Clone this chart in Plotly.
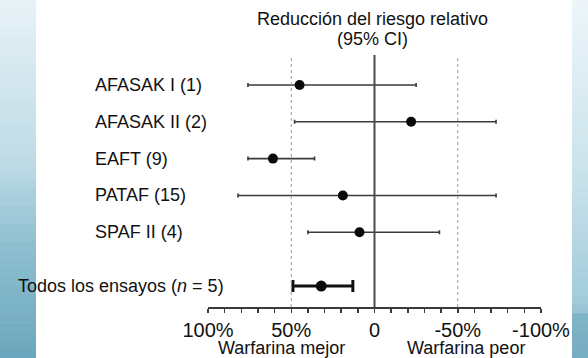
import plotly.graph_objects as go

# ---- data (relative risk reduction, %) ----
studies = ["AFASAK I (1)", "AFASAK II (2)", "EAFT (9)", "PATAF (15)", "SPAF II (4)"]
study_point = [45, -22, 61, 19, 9]
study_ci_low = [-25, -73, 36, -73, -39]
study_ci_high = [76, 48, 76, 82, 40]

overall_label = "Todos los ensayos (<i>n</i> = 5)"
overall_point = [32]
overall_ci_low = [13]
overall_ci_high = [49]

tick_values = [100, 50, 0, -50, -100]
tick_labels = ["100%", "50%", "0", "-50%", "-100%"]
ref_lines = [50, 0, -50]

# ---- layout geometry (pixels) ----
W, H = 588, 358
L, R, T, B = 208, 47, 55, 51
PW, PH = W - L - R, H - T - B


def px_x(p):
    return (p - L) / PW


def px_y(p):
    return (T + PH - p) / PH


row_pos = list(range(len(studies)))
overall_pos = [len(studies) - 1 + 1.46]

FONT = "Liberation Sans, Arial, sans-serif"

fig = go.Figure()

# study CIs and points
fig.add_trace(go.Scatter(
    x=study_point, y=row_pos, mode="markers",
    marker=dict(color="#0a0a0a", size=10),
    error_x=dict(type="data", symmetric=False,
                 array=[h - p for h, p in zip(study_ci_high, study_point)],
                 arrayminus=[p - l for p, l in zip(study_point, study_ci_low)],
                 color="#3a3a3a", thickness=1.6, width=2),
    showlegend=False, hoverinfo="skip"))

fig.add_trace(go.Scatter(
    x=overall_point, y=overall_pos, mode="markers",
    marker=dict(color="#0a0a0a", size=11),
    error_x=dict(type="data", symmetric=False,
                 array=[h - p for h, p in zip(overall_ci_high, overall_point)],
                 arrayminus=[p - l for p, l in zip(overall_point, overall_ci_low)],
                 color="#111111", thickness=3, width=6),
    showlegend=False, hoverinfo="skip"))

shapes = []


def lerp(c1, c2, t):
    return "rgb(%d,%d,%d)" % tuple(round(a + (b - a) * t) for a, b in zip(c1, c2))


def gradient_strip(x0p, x1p, stops, n=40):
    out = []
    for i in range(n):
        y0 = H * i / n
        y1 = H * (i + 1) / n + 0.6
        t = (i + 0.5) / n
        for k in range(len(stops) - 1):
            t0, c0 = stops[k]
            t1, c1 = stops[k + 1]
            if t0 <= t <= t1:
                col = lerp(c0, c1, (t - t0) / (t1 - t0))
                break
        out.append(dict(type="rect", xref="paper", yref="paper",
                        x0=px_x(x0p), x1=px_x(x1p), y0=px_y(y1), y1=px_y(y0),
                        fillcolor=col, line=dict(width=0), layer="below"))
    return out


left_stops = [(0.0, (232, 242, 246)), (0.45, (190, 219, 230)),
              (0.7, (140, 190, 208)), (1.0, (108, 166, 188))]
right_stops = [(0.0, (238, 246, 249)), (0.5, (200, 225, 234)),
               (0.86, (160, 202, 217)), (0.87, (128, 180, 199)), (1.0, (118, 172, 193))]
shapes += gradient_strip(0, 36, left_stops)
shapes += gradient_strip(572, 588, right_stops)

# reference vertical lines
for v in ref_lines:
    if v == 0:
        shapes.append(dict(type="line", xref="x", yref="paper", x0=v, x1=v, y0=0, y1=1,
                           line=dict(color="#4a4a4a", width=2)))
    else:
        shapes.append(dict(type="line", xref="x", yref="paper", x0=v, x1=v, y0=0, y1=1,
                           line=dict(color="#9a9a9a", width=1, dash="dot")))

annotations = []
for name, pos in zip(studies, row_pos):
    annotations.append(dict(text=name, xref="paper", yref="y", x=px_x(93), y=pos,
                            xanchor="left", yanchor="middle", showarrow=False,
                            font=dict(family=FONT, size=18, color="#111111")))
annotations.append(dict(text=overall_label, xref="paper", yref="y", x=px_x(16), y=overall_pos[0],
                        xanchor="left", yanchor="middle", showarrow=False,
                        font=dict(family=FONT, size=18, color="#111111")))

annotations.append(dict(text="Reducción del riesgo relativo", xref="x", yref="paper",
                        x=1, y=px_y(19), xanchor="center", yanchor="middle", showarrow=False,
                        font=dict(family=FONT, size=18, color="#111111")))
annotations.append(dict(text="(95% CI)", xref="x", yref="paper",
                        x=1, y=px_y(39), xanchor="center", yanchor="middle", showarrow=False,
                        font=dict(family=FONT, size=18, color="#111111")))
annotations.append(dict(text="Warfarina mejor", xref="x", yref="paper",
                        x=56, y=px_y(348), xanchor="center", yanchor="middle", showarrow=False,
                        font=dict(family=FONT, size=18, color="#111111")))
annotations.append(dict(text="Warfarina peor", xref="x", yref="paper",
                        x=-55, y=px_y(348), xanchor="center", yanchor="middle", showarrow=False,
                        font=dict(family=FONT, size=18, color="#111111")))

y_top_units = -30 / 36.9
y_bottom_units = overall_pos[0] + (307 - 286) / 36.9

fig.update_layout(
    width=W, height=H,
    margin=dict(l=L, r=R, t=T, b=B, pad=0),
    paper_bgcolor="white", plot_bgcolor="white",
    shapes=shapes, annotations=annotations,
    xaxis=dict(range=[100, -100], showgrid=False, zeroline=False,
               showline=True, linecolor="#3a3a3a", linewidth=2,
               tickmode="array", tickvals=tick_values, ticktext=tick_labels,
               ticks="outside", ticklen=4, tickwidth=1.5, tickcolor="#3a3a3a",
               minor=dict(dtick=10, tick0=0, ticks="outside", ticklen=4,
                          tickwidth=1.5, tickcolor="#3a3a3a"),
               tickfont=dict(family=FONT, size=20, color="#111111"),
               ticklabelstandoff=0),
    yaxis=dict(range=[y_bottom_units, y_top_units], visible=False, showgrid=False,
               zeroline=False),
)

fig.write_html("out.html", config={"displayModeBar": False, "staticPlot": True},
               post_script="document.body.style.margin='0';document.body.style.overflow='hidden';")
